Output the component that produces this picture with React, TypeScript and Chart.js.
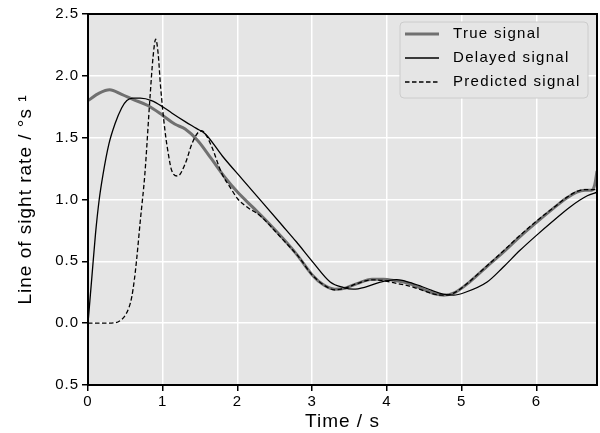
import { useEffect, useRef } from "react";
import { Chart, registerables } from "chart.js";

Chart.register(...registerables);

// ---- Data ----
const seriesLabels = ["True signal", "Delayed signal", "Predicted signal"];

const trueTime = [0, 0.15, 0.29, 0.45, 0.6, 0.8, 1.0, 1.16, 1.3, 1.47, 1.65, 1.83, 2.0, 2.2, 2.35, 2.6, 2.8, 3.0, 3.15, 3.3, 3.45, 3.6, 3.8, 3.95, 4.1, 4.3, 4.5, 4.65, 4.76, 4.9, 5.1, 5.34, 5.55, 5.78, 6.0, 6.23, 6.4, 6.54, 6.65, 6.74, 6.78, 6.81];
const trueRate = [1.8, 1.86, 1.887, 1.85, 1.81, 1.76, 1.68, 1.61, 1.57, 1.476, 1.33, 1.18, 1.06, 0.94, 0.85, 0.69, 0.55, 0.39, 0.31, 0.275, 0.285, 0.32, 0.355, 0.355, 0.345, 0.32, 0.27, 0.235, 0.226, 0.245, 0.33, 0.46, 0.57, 0.7, 0.815, 0.93, 1.01, 1.06, 1.075, 1.075, 1.12, 1.23];

const delayedTime = [0, 0.05, 0.1, 0.15, 0.2, 0.28, 0.36, 0.45, 0.52, 0.6, 0.7, 0.85, 1.0, 1.12, 1.3, 1.45, 1.57, 1.8, 2.06, 2.35, 2.6, 2.79, 3.0, 3.24, 3.42, 3.55, 3.7, 3.9, 4.13, 4.3, 4.45, 4.6, 4.75, 4.89, 5.05, 5.34, 5.55, 5.78, 6.0, 6.23, 6.45, 6.68, 6.81];
const delayedRate = [0, 0.36, 0.72, 1.0, 1.2, 1.45, 1.61, 1.74, 1.8, 1.82, 1.82, 1.8, 1.75, 1.7, 1.63, 1.575, 1.53, 1.35, 1.167, 0.965, 0.79, 0.656, 0.5, 0.333, 0.288, 0.275, 0.29, 0.33, 0.352, 0.33, 0.3, 0.265, 0.235, 0.226, 0.25, 0.333, 0.45, 0.589, 0.71, 0.83, 0.94, 1.03, 1.059];

const predictedTime = [0, 0.2, 0.36, 0.45, 0.5, 0.55, 0.585, 0.62, 0.65, 0.7, 0.76, 0.83, 0.87, 0.906, 0.94, 0.97, 1.03, 1.08, 1.12, 1.2, 1.3, 1.39, 1.47, 1.52, 1.58, 1.66, 1.79, 1.9, 2.01, 2.15, 2.3, 2.6, 2.8, 3.0, 3.15, 3.3, 3.45, 3.6, 3.8, 3.95, 4.1, 4.3, 4.5, 4.65, 4.76, 4.9, 5.1, 5.34, 5.55, 5.78, 6.0, 6.23, 6.4, 6.54, 6.65, 6.74, 6.81];
const predictedRate = [0, 0, 0.003, 0.03, 0.065, 0.13, 0.21, 0.35, 0.51, 0.83, 1.2, 1.83, 2.15, 2.296, 2.17, 1.92, 1.556, 1.35, 1.234, 1.19, 1.288, 1.45, 1.54, 1.556, 1.52, 1.42, 1.21, 1.1, 1.0, 0.93, 0.87, 0.68, 0.55, 0.39, 0.31, 0.27, 0.285, 0.32, 0.35, 0.345, 0.325, 0.3, 0.26, 0.232, 0.226, 0.245, 0.335, 0.465, 0.58, 0.71, 0.825, 0.935, 1.015, 1.065, 1.08, 1.08, 1.08];

const xMin = 0;
const xMax = 6.81;
const xStep = 1;
const yMin = -0.5;
const yMax = 2.5;
const yStep = 0.5;

const xTitle = "Time / s";
const yTitle = "Line of sight rate / °s ¹";

const FONT = '"Liberation Sans", Arial, sans-serif';
const SPACING = "1px";

const toPoints = (xs: number[], ys: number[]) => xs.map((x, i) => ({ x, y: ys[i] }));

const framePlugin = {
  id: "frameAndLegend",
  beforeUpdate(chart: any) {
    chart.ctx.letterSpacing = SPACING;
  },
  beforeDraw(chart: any) {
    const { ctx, chartArea: a } = chart;
    ctx.letterSpacing = SPACING;
    ctx.save();
    ctx.fillStyle = "#e5e5e5";
    ctx.fillRect(a.left, a.top, a.right - a.left, a.bottom - a.top);
    ctx.restore();
  },
  afterDraw(chart: any) {
    const { ctx, chartArea: a } = chart;
    ctx.save();
    // frame
    ctx.strokeStyle = "#000";
    ctx.lineWidth = 2;
    ctx.setLineDash([]);
    ctx.strokeRect(a.left, a.top, a.right - a.left, a.bottom - a.top);
    // legend
    const bw = 188;
    const bh = 76;
    const bx = a.right - 9 - bw;
    const by = a.top + 8;
    ctx.beginPath();
    ctx.roundRect(bx, by, bw, bh, 4);
    ctx.fillStyle = "#e5e5e5";
    ctx.fill();
    ctx.strokeStyle = "#cccccc";
    ctx.lineWidth = 1;
    ctx.stroke();
    chart.data.datasets.forEach((ds: any, i: number) => {
      const y = by + 12 + i * 24;
      ctx.beginPath();
      ctx.setLineDash(ds.borderDash || []);
      ctx.strokeStyle = ds.borderColor;
      ctx.lineWidth = ds.borderWidth;
      ctx.moveTo(bx + 5, y);
      ctx.lineTo(bx + 39, y);
      ctx.stroke();
      ctx.setLineDash([]);
      ctx.fillStyle = "#000";
      ctx.font = `15px ${FONT}`;
      ctx.letterSpacing = "1.3px";
      ctx.textBaseline = "middle";
      ctx.textAlign = "left";
      ctx.fillText(ds.label, bx + 53, y);
    });
    ctx.restore();
    ctx.letterSpacing = SPACING;
  },
};

export default function App() {
  const canvasRef = useRef<HTMLCanvasElement | null>(null);

  useEffect(() => {
    if (!canvasRef.current) return;
    Chart.defaults.font.family = FONT;
    Chart.defaults.color = "#000";
    const chart = new Chart(canvasRef.current, {
      type: "line",
      data: {
        datasets: [
          {
            label: seriesLabels[0],
            data: toPoints(trueTime, trueRate),
            borderColor: "#707070",
            borderWidth: 3,
            pointRadius: 0,
            cubicInterpolationMode: "monotone",
            order: 2,
          },
          {
            label: seriesLabels[1],
            data: toPoints(delayedTime, delayedRate),
            borderColor: "#000000",
            borderWidth: 1.3,
            pointRadius: 0,
            cubicInterpolationMode: "monotone",
            order: 1,
          },
          {
            label: seriesLabels[2],
            data: toPoints(predictedTime, predictedRate),
            borderColor: "#000000",
            borderWidth: 1.3,
            borderDash: [4.5, 2.5],
            pointRadius: 0,
            cubicInterpolationMode: "monotone",
            order: 0,
          },
        ],
      },
      options: {
        animation: false,
        responsive: true,
        maintainAspectRatio: false,
        layout: { padding: { top: 14, right: 3, left: 0, bottom: 0 } },
        plugins: {
          legend: { display: false },
          tooltip: { enabled: false },
        },
        scales: {
          x: {
            type: "linear",
            min: xMin,
            max: xMax,
            afterFit: (s: any) => {
              s.height = 48;
            },
            ticks: {
              stepSize: xStep,
              includeBounds: false,
              padding: 2,
              font: { size: 15 },
              color: "#000",
              callback: (v: any) => String(v),
              maxRotation: 0,
            },
            grid: {
              color: "#ffffff",
              lineWidth: 1.5,
              tickColor: "#000",
              tickLength: 6,
              tickWidth: 1.5,
            },
            border: { display: false },
            title: {
              display: true,
              text: xTitle,
              font: { size: 19 },
              color: "#000",
              padding: { top: 0, bottom: 0 },
            },
          },
          y: {
            type: "linear",
            min: yMin,
            max: yMax,
            afterFit: (s: any) => {
              s.width = 88;
            },
            ticks: {
              stepSize: yStep,
              padding: 3,
              font: { size: 15 },
              color: "#000",
              callback: (v: any) => Math.abs(Number(v)).toFixed(1),
            },
            grid: {
              color: "#ffffff",
              lineWidth: 1.5,
              tickColor: "#000",
              tickLength: 6,
              tickWidth: 1.5,
            },
            border: { display: false },
            title: {
              display: true,
              text: yTitle,
              font: { size: 19 },
              color: "#000",
              padding: { top: 14, bottom: 0 },
            },
          },
        },
      },
      plugins: [framePlugin],
    });
    return () => chart.destroy();
  }, []);

  return (
    <div style={{ position: "absolute", left: 0, top: 0, width: 600, height: 433 }}>
      <canvas ref={canvasRef} />
    </div>
  );
}
